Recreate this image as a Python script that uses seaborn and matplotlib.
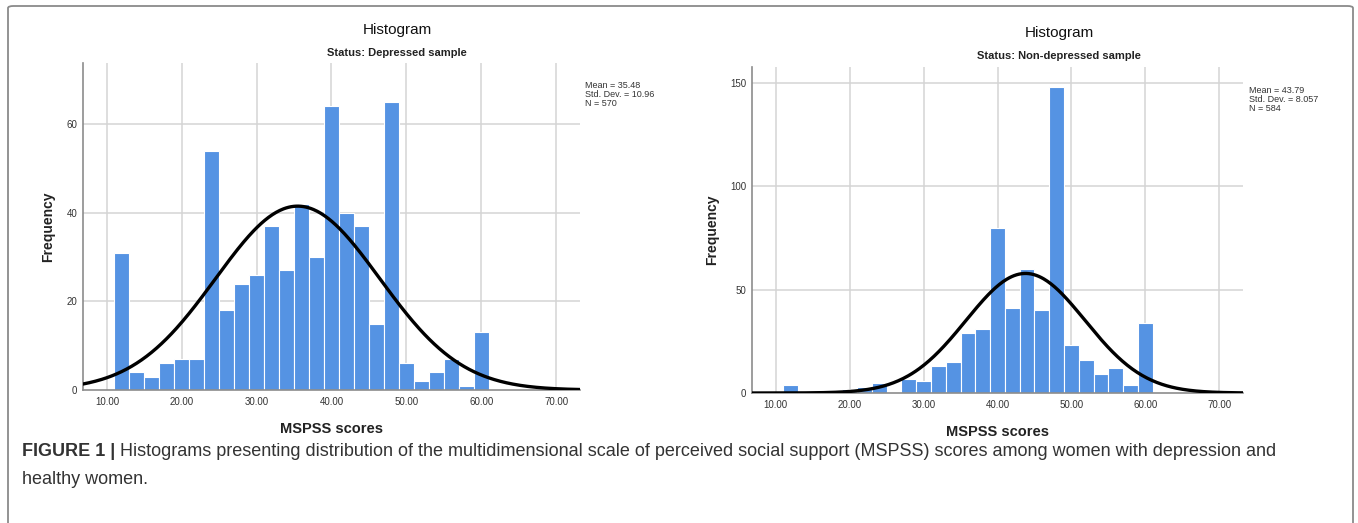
import numpy as np
import pandas as pd
import matplotlib
matplotlib.use("Agg")
import matplotlib.pyplot as plt
import seaborn as sns
from matplotlib.patches import FancyBboxPatch

# bin edges shared by both panels (width 2, from 11 to 61)
bin_edges = list(range(11, 63, 2))
bin_centers = [e + 1 for e in bin_edges[:-1]]

# counts
depressed_counts = [31, 4, 3, 6, 7, 7, 54, 18, 24, 26, 37, 27, 42,
                    30, 64, 40, 37, 15, 65, 6, 2, 4, 7, 1, 13]
healthy_counts = [4, 1, 1, 0, 2, 3, 5, 0, 7, 6, 13, 15, 29,
                  31, 80, 41, 60, 40, 148, 23, 16, 9, 12, 4, 34]

depressed_stats = {"mean": 35.48, "sd": 10.96, "n": 570}
healthy_stats = {"mean": 43.79, "sd": 8.057, "n": 584}

x_ticks = [10, 20, 30, 40, 50, 60, 70]
left_yticks = [0, 20, 40, 60]
right_yticks = [0, 50, 100, 150]

sns.set_style("white")
plt.rcParams["font.family"] = ["Liberation Sans", "DejaVu Sans"]

W, H = 1358, 523
fig = plt.figure(figsize=(W / 100, H / 100), dpi=100)

bar_color = "#5593e3"
grid_color = "#d4d4d4"
text_color = "#333333"


def px_axes(x0, y0, x1, y1):
    return fig.add_axes([x0 / W, 1 - y1 / H, (x1 - x0) / W, (y1 - y0) / H])


def draw_panel(ax, counts, stats, yticks, ylim, subtitle, ylab_x, title_x, title_y, stats_xy):
    df = pd.DataFrame({"score": bin_centers, "count": counts})
    ax.set_axisbelow(True)
    for t in x_ticks:
        ax.axvline(t, color=grid_color, lw=1.1, zorder=0)
    for t in yticks[1:]:
        ax.axhline(t, color=grid_color, lw=1.1, zorder=0)
    sns.histplot(data=df, x="score", weights="count", bins=bin_edges, ax=ax,
                 color=bar_color, alpha=1, edgecolor="white", linewidth=0.8, zorder=2)
    xs = np.linspace(6.8, 73.2, 400)
    ys = stats["n"] * 2 * np.exp(-0.5 * ((xs - stats["mean"]) / stats["sd"]) ** 2) / (stats["sd"] * np.sqrt(2 * np.pi))
    sns.lineplot(x=xs, y=ys, ax=ax, color="black", lw=2.4, zorder=3)
    ax.set_xlim(6.8, 73.2)
    ax.set_ylim(*ylim)
    ax.set_xticks(x_ticks)
    ax.set_xticklabels([f"{t:.2f}" for t in x_ticks])
    ax.set_yticks(yticks)
    ax.tick_params(axis="x", length=0, labelsize=7, colors=text_color, pad=5)
    ax.tick_params(axis="y", length=0, labelsize=7, colors=text_color, pad=4)
    for s in ["top", "right"]:
        ax.spines[s].set_visible(False)
    for s in ["left", "bottom"]:
        ax.spines[s].set_color("#8c8c8c")
        ax.spines[s].set_linewidth(1.2)
    ax.set_xlabel("MSPSS scores", fontsize=10.5, fontweight="bold", color="#222222", labelpad=11)
    ax.set_ylabel("Frequency", fontsize=10, fontweight="bold", color="#222222")
    ax.yaxis.set_label_coords(ylab_x, 0.5)

    fig.text(title_x / W, 1 - title_y / H, "Histogram", ha="center", va="center",
             fontsize=11, color="#111111")
    fig.text(title_x / W, 1 - (title_y + 23) / H, subtitle, ha="center", va="center",
             fontsize=8, fontweight="bold", color="#222222")
    fig.text(stats_xy[0] / W, 1 - stats_xy[1] / H,
             f"Mean = {stats['mean']}\nStd. Dev. = {stats['sd']}\nN = {stats['n']}",
             ha="left", va="top", fontsize=6.5, color=text_color, linespacing=1.0)


ax1 = px_axes(83, 63, 580, 390)
draw_panel(ax1, depressed_counts, depressed_stats, left_yticks, (0, 73.8),
           "Status: Depressed sample", -0.056, 397, 30, (585, 81))

ax2 = px_axes(752, 67, 1243, 393)
draw_panel(ax2, healthy_counts, healthy_stats, right_yticks, (0, 157.7),
           "Status: Non-depressed sample", -0.066, 1059, 33, (1249, 86))

# outer frame
frame = FancyBboxPatch((8 / W, -0.05), (1353 - 8) / W, 1.05 - 6 / H,
                       boxstyle="round,pad=0,rounding_size=0.004",
                       transform=fig.transFigure, fill=False,
                       edgecolor="#8a8a8a", lw=1.3, clip_on=False)
fig.patches.append(frame)

# caption
cap_y = 1 - 452 / H
bold = fig.text(22 / W, cap_y, "FIGURE 1 |", fontsize=13, fontweight="bold",
                color=text_color, va="center", ha="left")
fig.canvas.draw()
bb = bold.get_window_extent(renderer=fig.canvas.get_renderer())
fig.text((bb.x1 + 5) / W, cap_y,
         "Histograms presenting distribution of the multidimensional scale of perceived social "
         "support (MSPSS) scores among women with depression and",
         fontsize=13, color=text_color, va="center", ha="left")
fig.text(22 / W, 1 - 480 / H, "healthy women.", fontsize=13, color=text_color,
         va="center", ha="left")

fig.savefig("out.png", dpi=100)
